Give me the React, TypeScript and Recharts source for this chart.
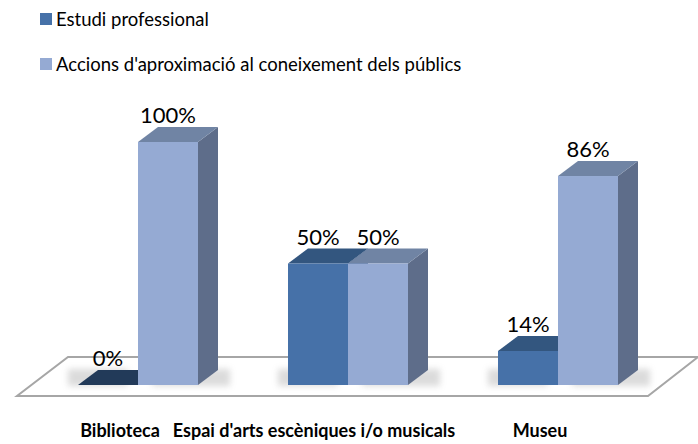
import React from 'react';
import { BarChart, Bar, XAxis, YAxis, LabelList, usePlotArea } from 'recharts';

const categories = ['Biblioteca', "Espai d'arts escèniques i/o musicals", 'Museu'];
const estudiProfessional = [0, 50, 14];
const accionsAproximacio = [100, 50, 86];
const seriesNames = ['Estudi professional', "Accions d'aproximació al coneixement dels públics"];

const data = categories.map((name, i) => ({
  name,
  estudi: estudiProfessional[i],
  accions: accionsAproximacio[i],
}));

const FONT = 'Lato, "Open Sans", sans-serif';

// depth of the fake 3D extrusion
const DX = 20;
const DY = 15;

const COLORS = {
  dark: { front: '#4671a8', top: '#33567f', side: '#355a86', flat: '#223a59' },
  light: { front: '#95aad3', top: '#7084a4', side: '#5e6d8a', flat: '#7084a4' },
};

// label shift of the category names (Excel puts them on the floor front edge)
const TICK_SHIFT = [-18, -34, -18];

const make3DBar = (c: typeof COLORS.dark, shadowSide: 'left' | 'right') => (props: any) => {
  const { x, y, width: w, height: h } = props;
  const base = y + h;
  const topFill = h <= 0.5 ? c.flat : c.top;
  const sx = shadowSide === 'left' ? x - 10 : x + 14;
  const sw = shadowSide === 'left' ? w : w + DX - 2;
  return (
    <g>
      <rect x={sx} y={base - DY - 1} width={sw} height={DY + 2} fill="#999" opacity={0.35} filter="url(#soft)" />
      <polygon
        points={`${x + w},${y} ${x + w + DX},${y - DY} ${x + w + DX},${base - DY} ${x + w},${base}`}
        fill={c.side}
      />
      <polygon
        points={`${x},${y} ${x + DX},${y - DY} ${x + w + DX},${y - DY} ${x + w},${y}`}
        fill={topFill}
      />
      {h > 0 && <rect x={x} y={y} width={w} height={h} fill={c.front} />}
    </g>
  );
};

const Floor = () => {
  const area = usePlotArea ? usePlotArea() : null;
  if (!area) return null;
  const left = area.x;
  const right = area.x + area.width;
  const bottom = area.y + area.height;
  const back = bottom - 28;
  const front = bottom + 11;
  const pts = `${left - 16},${front} ${right - 15},${front} ${right + 35},${back} ${left + 35},${back}`;
  return (
    <g>
      <defs>
        <filter id="soft" x="-50%" y="-50%" width="200%" height="200%">
          <feGaussianBlur stdDeviation="3" />
        </filter>
      </defs>
      <polygon points={pts} fill="#ffffff" stroke="#a6a6a6" strokeWidth={2} />
    </g>
  );
};

const renderValue = (props: any) => {
  const { x, y, width, value } = props;
  return (
    <text
      x={x + width / 2}
      y={y - DY - 4}
      textAnchor="middle"
      fontFamily={FONT}
      fontSize={22}
      fill="#000"
    >
      {`${value}%`}
    </text>
  );
};

const CategoryTick = (props: any) => {
  const { x, y, payload, index } = props;
  return (
    <text
      x={x + (TICK_SHIFT[index] ?? 0)}
      y={y}
      dy={44}
      textAnchor="middle"
      fontFamily={FONT}
      fontWeight="bold"
      fontSize={18}
      fill="#000"
    >
      {payload.value}
    </text>
  );
};

const legendColors = [COLORS.dark.front, COLORS.light.front];

export default function App() {
  return (
    <div style={{ position: 'absolute', left: 0, top: 0, width: 698, height: 444, background: '#fff' }}>
      <div style={{ position: 'absolute', left: 40, top: 0, fontFamily: FONT, fontSize: 18.5, color: '#000' }}>
        {seriesNames.map((name, i) => (
          <div
            key={name}
            style={{ position: 'absolute', top: 7 + i * 45, left: 0, display: 'flex', alignItems: 'center', whiteSpace: 'nowrap', height: 24 }}
          >
            <span style={{ display: 'inline-block', width: 12, height: 12, background: legendColors[i], marginRight: 4 }} />
            {name}
          </div>
        ))}
      </div>
      <BarChart
        width={698}
        height={444}
        data={data}
        margin={{ top: 142, right: 35, bottom: 29, left: 33 }}
        barGap={0}
        barCategoryGap={45}
      >
        <Floor />
        <XAxis dataKey="name" axisLine={false} tickLine={false} height={30} tick={<CategoryTick />} interval={0} />
        <YAxis hide domain={[0, 100]} />
        <Bar dataKey="estudi" name={seriesNames[0]} shape={make3DBar(COLORS.dark, 'left')} isAnimationActive={false}>
          <LabelList dataKey="estudi" content={renderValue} />
        </Bar>
        <Bar dataKey="accions" name={seriesNames[1]} shape={make3DBar(COLORS.light, 'right')} isAnimationActive={false}>
          <LabelList dataKey="accions" content={renderValue} />
        </Bar>
      </BarChart>
    </div>
  );
}
